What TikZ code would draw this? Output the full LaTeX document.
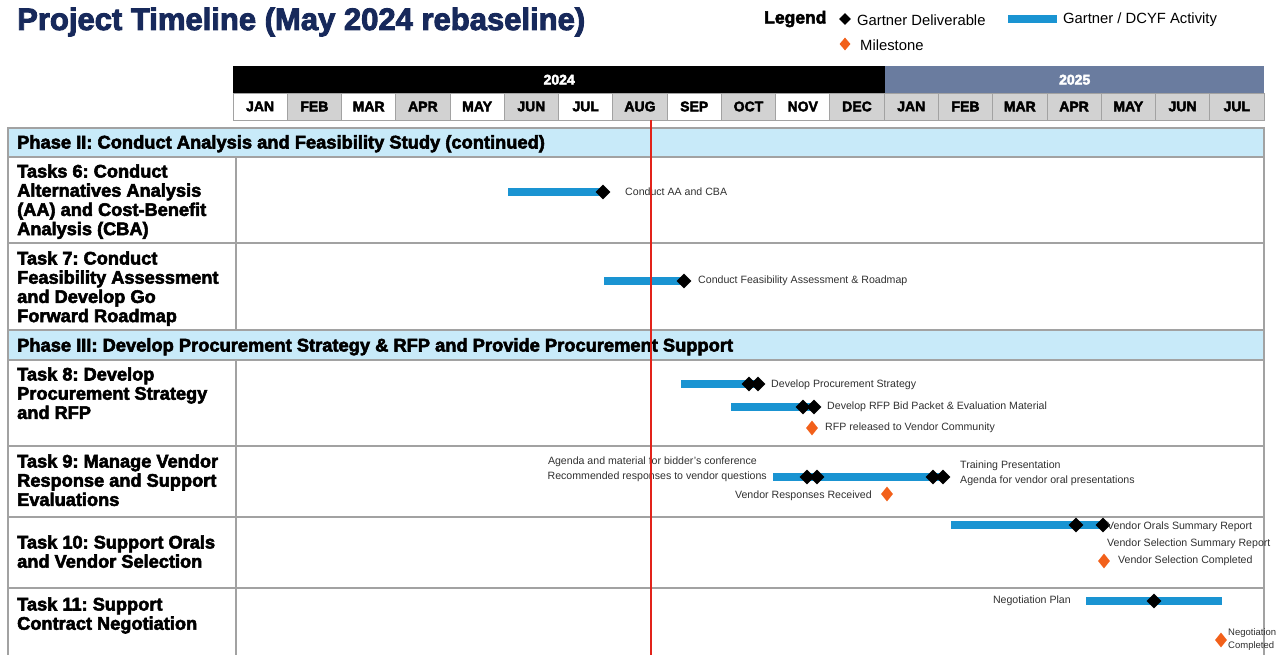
\documentclass[tikz,border=0pt]{standalone}
\usepackage{fontspec}
\setmainfont{Liberation Sans}
\newfontfamily\heavyfont{Liberation Sans}[BoldFeatures={FakeBold=3}]
\usetikzlibrary{shapes.geometric}
\frenchspacing

\definecolor{titlenavy}{HTML}{17295B}
\definecolor{barblue}{HTML}{1A94D2}
\definecolor{msorange}{HTML}{F2601A}
\definecolor{phasefill}{HTML}{C8EAF9}
\definecolor{monthgray}{HTML}{D2D2D2}
\definecolor{yearslate}{HTML}{6A7C9F}
\definecolor{gridgray}{HTML}{A2A2A2}
\definecolor{notegray}{HTML}{303030}
\definecolor{todayred}{HTML}{E2231A}

\pgfdeclarelayer{bars}
\pgfsetlayers{bars,main}

\tikzset{
  deliv/.style={diamond, fill=black, minimum size=15pt, inner sep=0pt},
  miles/.style={diamond, fill=msorange, minimum width=12pt, minimum height=15pt, inner sep=0pt},
  bar/.style={draw=barblue, line width=8pt},
  note/.style={anchor=west, inner sep=0pt, text=notegray, font=\fontsize{10.6}{15}\selectfont},
  tasklbl/.style={anchor=base west, align=left, inner sep=0pt, font=\heavyfont\bfseries\fontsize{18.2}{19.2}\selectfont},
  phaselbl/.style={anchor=base west, inner sep=0pt, font=\heavyfont\bfseries\fontsize{18.3}{19}\selectfont},
  monthcell/.style={draw=gridgray, line width=0.8pt, minimum width=54.26pt, minimum height=27pt, inner sep=0pt, font=\heavyfont\bfseries\fontsize{14}{15}\selectfont},
  yearcell/.style={anchor=north west, minimum height=27pt, inner sep=0pt, text=white, font=\heavyfont\bfseries\fontsize{14}{15}\selectfont},
  grid/.style={draw=gridgray, line width=1.6pt},
  legendtext/.style={anchor=west, inner sep=0pt, font=\fontsize{14.8}{16}\selectfont}
}

\begin{document}
\begin{tikzpicture}[x=1pt,y=-1pt]
\useasboundingbox (0,0) rectangle (1288,655);
\clip (0,0) rectangle (1288,655);

% title and legend
\node[anchor=base west, inner sep=0pt, text=titlenavy, font=\heavyfont\bfseries\fontsize{31}{34}\selectfont] (title) at (17,30) {Project Timeline (May 2024 rebaseline)};
\node[anchor=west, inner sep=0pt, font=\heavyfont\bfseries\fontsize{17.5}{18}\selectfont] (lgd) at (764,19) {Legend};
\node[deliv, minimum size=12pt] (lgdd) at (845,19) {};
\node[legendtext] (lgddt) at (857,20) {Gartner Deliverable};
\coordinate (lgbs) at (1008,19);
\coordinate (lgbe) at (1057,19);
\draw[bar] (lgbs) -- (lgbe);
\node[legendtext] (lgbt) at (1063,20) {Gartner / DCYF Activity};
\node[miles, minimum width=11pt, minimum height=13pt] (lgdm) at (845,44) {};
\node[legendtext] (lgdmt) at (860,45) {Milestone};

% years and months
\node[yearcell, fill=black, minimum width=652pt] (y2024) at (233,66) {2024};
\node[yearcell, fill=yearslate, minimum width=379pt] (y2025) at (885,66) {2025};
\foreach \m [count=\i from 0] in {JAN,FEB,MAR,APR,MAY,JUN,JUL,AUG,SEP,OCT,NOV,DEC,JAN,FEB,MAR,APR,MAY,JUN,JUL}{
  \pgfmathtruncatemacro{\shade}{(\i>11) || (mod(\i,2)==1)}
  \ifnum\shade=1 \def\cellfill{monthgray}\else\def\cellfill{white}\fi
  \node[monthcell, fill=\cellfill] (m\i) at (260.13+\i*54.26,106.5) {\m};
}

% table
\filldraw[grid, fill=phasefill] (8,128) rectangle (1264,157);
\filldraw[grid, fill=phasefill] (8,330) rectangle (1264,360);
\draw[grid] (8,157) -- (8,660);
\draw[grid] (1264,157) -- (1264,660);
\foreach \yy in {243,446,517,588}
  \draw[grid] (8,\yy) -- (1264,\yy);
\draw[grid] (236,157) -- (236,330);
\draw[grid] (236,360) -- (236,660);

% row headings (placed at the baseline of their last line)
\node[phaselbl] (ph2) at (17,148.5) {Phase II: Conduct Analysis and Feasibility Study (continued)};
\node[phaselbl] (ph3) at (17,351.5) {Phase III: Develop Procurement Strategy \& RFP and Provide Procurement Support};
\node[tasklbl] (t6) at (17,235.1) {Tasks 6: Conduct\\Alternatives Analysis\\(AA) and Cost-Benefit\\Analysis (CBA)};
\node[tasklbl] (t7) at (17,322.1) {Task 7: Conduct\\Feasibility Assessment\\and Develop Go\\Forward Roadmap};
\node[tasklbl] (t8) at (17,418.9) {Task 8: Develop\\Procurement Strategy\\and RFP};
\node[tasklbl] (t9) at (17,505.9) {Task 9: Manage Vendor\\Response and Support\\Evaluations};
\node[tasklbl] (t10) at (17,567.7) {Task 10: Support Orals\\and Vendor Selection};
\node[tasklbl] (t11) at (17,629.7) {Task 11: Support\\Contract Negotiation};

% task 6
\coordinate (aas) at (508,192);
\node[deliv] (aad) at (603,192) {};
\node[note] (aal) at (625,192) {Conduct AA and CBA};
% task 7
\coordinate (fas) at (604,281);
\node[deliv] (fad) at (684,281) {};
\node[note] (fal) at (698,281) {Conduct Feasibility Assessment \& Roadmap};
% task 8
\coordinate (pss) at (681,384);
\node[deliv] (psd1) at (749,384) {};
\node[deliv] (psd2) at (758,384) {};
\node[note] (psl) at (771,385) {Develop Procurement Strategy};
\coordinate (rfs) at (731,407);
\node[deliv] (rfd1) at (803,407) {};
\node[deliv] (rfd2) at (814,407) {};
\node[note] (rfl) at (827,407) {Develop RFP Bid Packet \& Evaluation Material};
\node[miles] (rfm) at (812,428) {};
\node[note] (rfml) at (825,428) {RFP released to Vendor Community};
% task 9
\coordinate (ves) at (773,477);
\node[deliv] (ved1) at (807,477) {};
\node[deliv] (ved2) at (817,477) {};
\node[deliv] (ved3) at (933,477) {};
\node[deliv] (ved4) at (943,477) {};
\node[note, anchor=east] (vel1) at (757,462) {Agenda and material for bidder's conference};
\node[note, anchor=east] (vel2) at (767,477) {Recommended responses to vendor questions};
\node[note] (vel3) at (960,466) {Training Presentation};
\node[note] (vel4) at (960,481) {Agenda for vendor oral presentations};
\node[miles] (vem) at (887,494) {};
\node[note, anchor=east] (veml) at (872,496) {Vendor Responses Received};
% task 10
\coordinate (vos) at (951,525);
\node[deliv] (vod1) at (1076,525) {};
\node[deliv] (vod2) at (1103,525) {};
\node[note] (vol1) at (1107,527) {Vendor Orals Summary Report};
\node[note] (vol2) at (1107,544) {Vendor Selection Summary Report};
\node[miles] (vom) at (1104,561) {};
\node[note] (voml) at (1118,561) {Vendor Selection Completed};
% task 11
\coordinate (ngs) at (1086,601);
\coordinate (nge) at (1222,601);
\node[deliv] (ngd) at (1154,601) {};
\node[note, anchor=east] (ngl) at (1071,601) {Negotiation Plan};
\node[miles] (ngm) at (1221,640) {};
\node[note, align=left, font=\fontsize{9.5}{13}\selectfont] (ngml) at (1228,640) {Negotiation\\Completed};

\begin{pgfonlayer}{bars}
\draw[bar] (aas) -- (aad.center);
\draw[bar] (fas) -- (fad.center);
\draw[bar] (pss) -- (psd2.center);
\draw[bar] (rfs) -- (rfd2.center);
\draw[bar] (ves) -- (ved4.center);
\draw[bar] (vos) -- (vod2.center);
\draw[bar] (ngs) -- (nge);
\end{pgfonlayer}

% status date
\draw[todayred, line width=2.8pt] (651,120) -- (651,660);
\end{tikzpicture}
\end{document}
